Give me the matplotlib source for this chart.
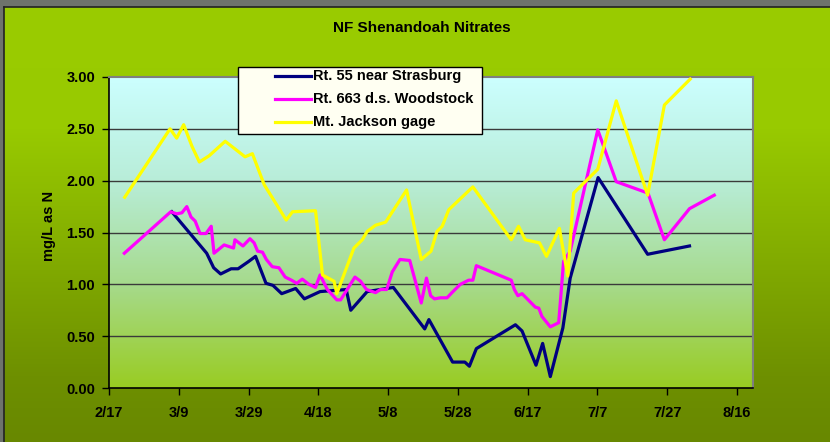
import numpy as np
import matplotlib
matplotlib.use("Agg")
import matplotlib.pyplot as plt
from matplotlib.patches import Rectangle
from matplotlib.lines import Line2D
from matplotlib.colors import LinearSegmentedColormap

plt.rcParams['font.family'] = ['Liberation Sans', 'DejaVu Sans']
plt.rcParams['font.weight'] = 'bold'

# ---- data (x = days after 2/17) ----
series_names = ["Rt. 55 near Strasburg", "Rt. 663 d.s. Woodstock", "Mt. Jackson gage"]
series_colors = ["#000080", "#FF00FF", "#FFFF00"]

rt55_days = [18, 28, 30, 32, 35, 37, 40, 42, 45, 47, 49.5, 53.5, 56, 60.5, 68, 69.3,
             74, 81.5, 90.5, 91.7, 98.5, 102, 103.3, 105.3, 116.5, 118.4, 122.4, 124.3,
             126.5, 130.1, 132.2, 140.2, 154.4, 166.4]
rt55_vals = [1.70, 1.30, 1.16, 1.10, 1.15, 1.15, 1.22, 1.27, 1.01, 0.99, 0.91, 0.96, 0.86, 0.93, 0.95, 0.75,
             0.93, 0.97, 0.57, 0.66, 0.25, 0.25, 0.21, 0.38, 0.61, 0.55, 0.22, 0.43,
             0.11, 0.58, 1.06, 2.03, 1.29, 1.37]

rt663_days = [4.4, 17.7, 19.4, 20.9, 22.3, 23.5, 24.7, 26.1, 27.8, 29.3, 30.1, 33.0, 35.7, 36.1,
              38.4, 40.4, 41.6, 42.6, 44.0, 45.1, 46.8, 48.7, 50.5, 52.3, 53.8, 55.4, 57.3, 59.2,
              60.5, 62.6, 65.3, 66.4, 70.5, 72.1, 73.8, 76.4, 77.8, 79.6, 81.2, 83.4, 86.2, 89.5,
              91.0, 92.2, 93.3, 95.0, 96.9, 98.3, 100.7, 103.1, 104.3, 105.3, 115.3, 116.2, 117.2,
              118.4, 122.2, 123.2, 124.1, 126.5, 128.9, 130.3, 132.2, 140.1, 145.4, 154.5, 159.2,
              166.4, 173.5]
rt663_vals = [1.30, 1.70, 1.68, 1.69, 1.75, 1.65, 1.61, 1.49, 1.49, 1.56, 1.30, 1.38, 1.35, 1.43,
              1.37, 1.44, 1.40, 1.32, 1.31, 1.24, 1.17, 1.16, 1.07, 1.04, 1.01, 1.05, 1.00, 0.97,
              1.09, 0.95, 0.85, 0.85, 1.07, 1.03, 0.95, 0.92, 0.95, 0.95, 1.12, 1.24, 1.23, 0.82,
              1.06, 0.89, 0.86, 0.87, 0.87, 0.92, 1.00, 1.04, 1.04, 1.18, 1.04, 0.95, 0.89,
              0.91, 0.78, 0.77, 0.69, 0.59, 0.63, 1.22, 1.32, 2.49, 1.99, 1.88, 1.43,
              1.73, 1.86]

mtj_days = [4.5, 17.5, 19.4, 21.4, 23.8, 25.9, 28.7, 33.3, 39.0, 41.1, 44.5, 50.8, 52.6, 59.2,
            61.2, 64.5, 65.3, 70.2, 72.6, 74.0, 76.4, 79.3, 85.3, 89.5, 92.3, 94.0, 95.5, 97.4,
            104.3, 115.3, 117.4, 119.3, 123.4, 125.4, 129.1, 131.5, 133.2, 140.1, 145.4, 154.4,
            159.2, 166.6]
mtj_vals = [1.84, 2.50, 2.41, 2.54, 2.33, 2.18, 2.24, 2.38, 2.23, 2.26, 1.96, 1.62, 1.70, 1.71,
            1.09, 1.03, 0.91, 1.35, 1.43, 1.51, 1.57, 1.60, 1.91, 1.24, 1.32, 1.51, 1.56, 1.72,
            1.94, 1.43, 1.56, 1.43, 1.40, 1.27, 1.54, 1.08, 1.88, 2.11, 2.77, 1.86,
            2.73, 2.98]

x_tick_days = [0, 20, 40, 60, 80, 100, 120, 140, 160, 180]
x_tick_labels = ["2/17", "3/9", "3/29", "4/18", "5/8", "5/28", "6/17", "7/7", "7/27", "8/16"]
y_ticks = [0.0, 0.5, 1.0, 1.5, 2.0, 2.5, 3.0]

W, H = 830, 442
fig = plt.figure(figsize=(W / 100, H / 100), dpi=100)
fig.patch.set_facecolor("#6e736c")

# green panel gradient
bg = fig.add_axes([4 / W, 0, (W - 4) / W, (H - 7) / H], zorder=-10)
panel_cmap = LinearSegmentedColormap.from_list(
    "panel", [(0.0, "#9ACC00"), (0.28, "#98CA00"), (0.85, "#6E9000"), (1.0, "#688800")])
grad = np.linspace(0, 1, 256).reshape(-1, 1)
bg.imshow(grad, aspect="auto", cmap=panel_cmap, extent=[0, 1, 0, 1], origin="upper")
bg.set_axis_off()
fig.add_artist(Line2D([4 / W, 4 / W], [0, 1 - 7 / H], transform=fig.transFigure, color="#222222", lw=1.2))
fig.add_artist(Line2D([4 / W, 1], [1 - 7 / H, 1 - 7 / H], transform=fig.transFigure, color="#222222", lw=1.2))

# plot area
L, R, T, B = 109, 753, 77, 388
ax = fig.add_axes([L / W, 1 - B / H, (R - L) / W, (B - T) / H])
plot_cmap = LinearSegmentedColormap.from_list("plot", ["#CCFFFF", "#B8EDD8", "#A6DA8C", "#99CC22"])
ax.imshow(grad, aspect="auto", cmap=plot_cmap, extent=[0, 1, 0, 1], origin="upper",
          transform=ax.transAxes, zorder=0)

ax.set_xlim(0, 184.6)
ax.set_ylim(0, 3.0)
for y in y_ticks[1:-1]:
    ax.axhline(y, color="#3a3a3a", lw=1.0, zorder=1)

for days, vals, col in zip([rt55_days, rt663_days, mtj_days],
                           [rt55_vals, rt663_vals, mtj_vals], series_colors):
    ax.plot(days, vals, color=col, lw=2.3, zorder=3, solid_joinstyle="round")

ax.set_xticks(x_tick_days)
ax.set_xticklabels(x_tick_labels)
ax.set_yticks(y_ticks)
ax.set_yticklabels([f"{v:.2f}" for v in y_ticks])
ax.tick_params(axis="x", direction="out", length=5, width=1, pad=8, labelsize=10.5, colors="black")
ax.tick_params(axis="y", direction="out", length=5, width=1, pad=5, labelsize=10.5, colors="black")
for lab in ax.get_xticklabels() + ax.get_yticklabels():
    lab.set_fontweight("bold")

ax.spines["left"].set_color("black")
ax.spines["bottom"].set_color("black")
ax.spines["left"].set_linewidth(1.2)
ax.spines["bottom"].set_linewidth(1.2)
ax.spines["top"].set_color("#7f7f7f")
ax.spines["right"].set_color("#7f7f7f")
ax.spines["top"].set_linewidth(1.5)
ax.spines["right"].set_linewidth(1.5)

# title & axis label
fig.text(422 / W, 1 - 28 / H, "NF Shenandoah Nitrates", ha="center", va="center",
         fontsize=11, fontweight="bold")
fig.text(49 / W, 1 - 226 / H, "mg/L as N", ha="center", va="center", rotation=90,
         fontsize=10.5, fontweight="bold")

# legend
lx0, ly0, lx1, ly1 = 238, 67, 482, 134
fig.add_artist(Rectangle((lx0 / W, 1 - ly1 / H), (lx1 - lx0) / W, (ly1 - ly0) / H,
                         transform=fig.transFigure, facecolor="#FFFFF2", edgecolor="black",
                         lw=1.0, zorder=5))
rows = [76, 99, 122]
for name, col, ry in zip(series_names, series_colors, rows):
    fig.add_artist(Line2D([275 / W, 311 / W], [1 - ry / H, 1 - ry / H], transform=fig.transFigure,
                          color=col, lw=2.3, zorder=6))
    fig.text(313 / W, 1 - ry / H, name, ha="left", va="center", fontsize=10.5,
             fontweight="bold", zorder=6)

fig.savefig("out.png", dpi=100, facecolor=fig.get_facecolor())
